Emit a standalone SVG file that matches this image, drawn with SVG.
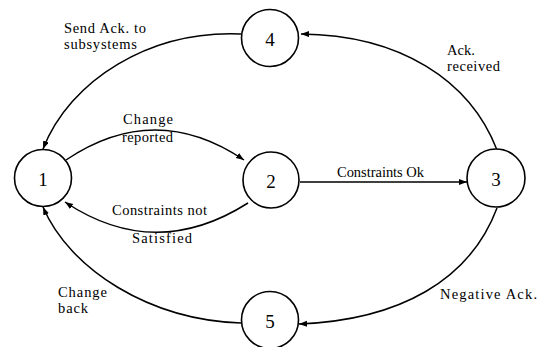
<svg xmlns="http://www.w3.org/2000/svg" width="539" height="347" viewBox="0 0 539 347">
<style>
.node circle{fill:#fff;stroke:#000;stroke-width:1.6}
.node text{font-family:"Liberation Serif",serif;font-size:19px;text-anchor:middle;fill:#000}
.edge{fill:none;stroke:#000;stroke-width:1.5;marker-end:url(#arr)}
.lbl{font-family:"Liberation Serif",serif;font-size:14.5px;fill:#000}
</style>
<defs>
<marker id="arr" markerUnits="userSpaceOnUse" markerWidth="10" markerHeight="8" refX="8" refY="3" orient="auto">
<path d="M0,0 L8,3 L0,6 z" fill="#000"/>
</marker>
</defs>
<g id="connectors">
<path class="edge" d="M241,34 C150,30 70,80 43,149"/>
<path class="edge" d="M497,150 C470,80 400,35 301,34"/>
<path class="edge" d="M66,160 Q155,100 244,160"/>
<path class="edge" d="M248,203 Q155,262 65,202"/>
<path class="edge" d="M300,182 L467,182"/>
<path class="edge" d="M497,208 C470,280 400,320 299,324"/>
<path class="edge" d="M241,323 C150,320 70,270 43,207"/>
</g>
<g id="labels">
<text class="lbl" x="64" y="33" textLength="82" lengthAdjust="spacing">Send Ack. to</text>
<text class="lbl" x="64" y="48.5" textLength="73" lengthAdjust="spacing">subsystems</text>
<text class="lbl" x="123" y="124" textLength="50" lengthAdjust="spacing">Change</text>
<text class="lbl" x="122" y="142" textLength="51" lengthAdjust="spacing">reported</text>
<text class="lbl" x="112" y="215" textLength="95" lengthAdjust="spacing">Constraints not</text>
<text class="lbl" x="132" y="243" textLength="60" lengthAdjust="spacing">Satisfied</text>
<text class="lbl" x="337" y="177" textLength="87" lengthAdjust="spacing">Constraints Ok</text>
<text class="lbl" x="447" y="55">Ack.</text>
<text class="lbl" x="447" y="70.5" textLength="53" lengthAdjust="spacing">received</text>
<text class="lbl" x="440" y="299" textLength="97" lengthAdjust="spacing">Negative Ack.</text>
<text class="lbl" x="58" y="297" textLength="49" lengthAdjust="spacing">Change</text>
<text class="lbl" x="58" y="312.5" textLength="30" lengthAdjust="spacing">back</text>
</g>
<g id="node1" class="node"><circle cx="43" cy="178" r="28.5"/><text x="43" y="186">1</text></g>
<g id="node2" class="node"><circle cx="271" cy="180" r="28"/><text x="271" y="188">2</text></g>
<g id="node3" class="node"><circle cx="496" cy="178" r="29"/><text x="496" y="186">3</text></g>
<g id="node4" class="node"><circle cx="270" cy="38" r="28.5"/><text x="270" y="46">4</text></g>
<g id="node5" class="node"><circle cx="270" cy="320" r="28.5"/><text x="270" y="328">5</text></g>
</svg>
